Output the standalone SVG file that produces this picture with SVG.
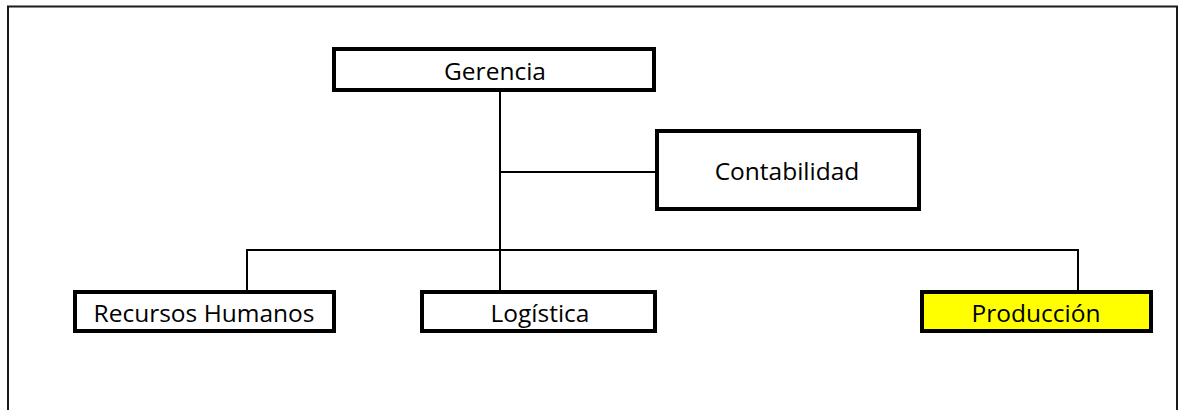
<svg xmlns="http://www.w3.org/2000/svg" width="1184" height="410" viewBox="0 0 1184 410">
  <style>
    .box { fill: #ffffff; stroke: #000000; stroke-width: 4; }
    .hl { fill: #ffff00; }
    .lbl { font-family: "Open Sans", "Noto Sans", "Liberation Sans", sans-serif; font-size: 24.5px; fill: #000000; text-anchor: middle; }
    .wire { fill: none; stroke: #000000; stroke-width: 2; }
  </style>
  <rect x="0" y="0" width="1184" height="410" fill="#ffffff"/>
  <!-- page frame -->
  <path d="M8,414 V6.5 H1177 V414" fill="none" stroke="#1a1a1a" stroke-width="2"/>

  <g id="connectors">
    <path class="wire" d="M500,90 V290"/>
    <path class="wire" d="M500,172 H655"/>
    <path class="wire" d="M247,290 V250 H1078 V290"/>
  </g>

  <g id="gerencia">
    <rect class="box" x="334" y="49" width="320" height="41"/>
    <text class="lbl" x="495" y="80">Gerencia</text>
  </g>
  <g id="contabilidad">
    <rect class="box" x="657" y="131" width="262" height="78"/>
    <text class="lbl" x="787" y="180">Contabilidad</text>
  </g>
  <g id="recursos-humanos">
    <rect class="box" x="75" y="292" width="259" height="39"/>
    <text class="lbl" x="204" y="322">Recursos Humanos</text>
  </g>
  <g id="logistica">
    <rect class="box" x="422" y="292" width="233" height="39"/>
    <text class="lbl" x="540" y="322">Logística</text>
  </g>
  <g id="produccion">
    <rect class="box hl" x="922" y="292" width="229" height="39"/>
    <text class="lbl" x="1036" y="322">Producción</text>
  </g>
</svg>
